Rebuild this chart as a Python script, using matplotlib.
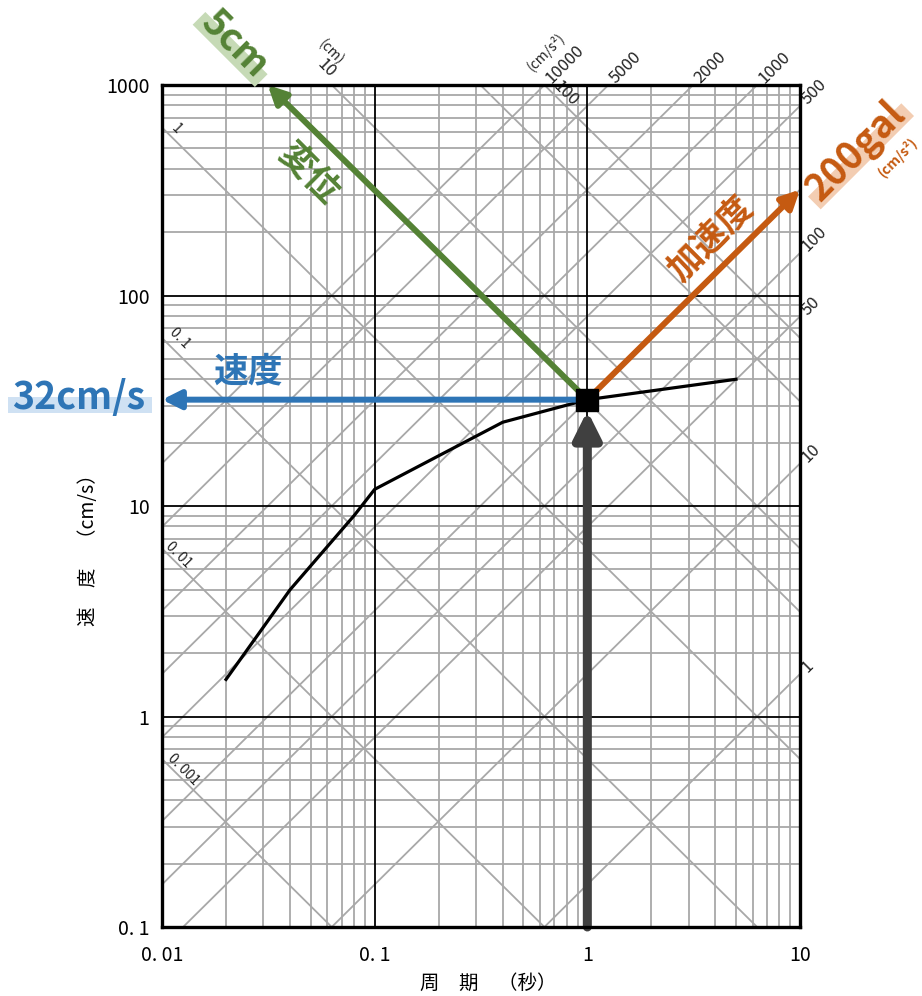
import numpy as np
import matplotlib
matplotlib.use('Agg')
import matplotlib.pyplot as plt
from matplotlib.patches import Polygon
from matplotlib.ticker import LogLocator, NullFormatter, FixedLocator, FixedFormatter

plt.rcParams['font.family'] = ['Noto Sans CJK JP', 'DejaVu Sans']

# ---------------- data ----------------
period = [0.02, 0.04, 0.08, 0.1, 0.4, 1, 5]          # 周期 (s)
velocity = [1.5, 4, 9, 12, 25, 32, 40]               # 速度 (cm/s)

disp_lines = [0.001, 0.01, 0.1, 1, 5, 10, 50, 100]   # 変位 (cm)
acc_lines = [1, 10, 50, 100, 200, 500, 1000, 2000, 5000, 10000]  # 加速度 (cm/s2)

disp_labels = {0.001: '0. 001', 0.01: '0. 01', 0.1: '0. 1', 1: '1', 10: '10', 100: '100'}
acc_labels = {1: '1', 10: '10', 50: '50', 100: '100', 500: '500',
              1000: '1000', 2000: '2000', 5000: '5000', 10000: '10000'}

x_ticks = [0.01, 0.1, 1, 10]
x_ticklabels = ['0. 01', '0. 1', '1', '10']
y_ticks = [0.1, 1, 10, 100, 1000]
y_ticklabels = ['0. 1', '1', '10', '100', '1000']

T_point, Sv_point = 1.0, 32.0     # 読み取り点
D_point, A_point = 5, 200         # 5cm, 200gal

T_min, T_max = 0.01, 10
Sv_min, Sv_max = 0.1, 1000

# ---------------- styles ----------------
GREEN, BLUE, ORANGE, DARK = '#548235', '#2e75b6', '#c55a11', '#404040'
GRID = '#a8a8a8'

W, H = 922, 996
fig = plt.figure(figsize=(W / 100, H / 100), dpi=100)
ax = fig.add_axes([162 / W, 1 - 927 / H, 638 / W, 842 / H])
ax.set_xscale('log')
ax.set_yscale('log')
ax.set_xlim(T_min, T_max)
ax.set_ylim(Sv_min, Sv_max)

ax.xaxis.set_major_locator(FixedLocator(x_ticks))
ax.xaxis.set_major_formatter(FixedFormatter(x_ticklabels))
ax.yaxis.set_major_locator(FixedLocator(y_ticks))
ax.yaxis.set_major_formatter(FixedFormatter(y_ticklabels))
ax.xaxis.set_minor_locator(LogLocator(10, subs=np.arange(2, 10), numticks=50))
ax.yaxis.set_minor_locator(LogLocator(10, subs=np.arange(2, 10), numticks=50))
ax.xaxis.set_minor_formatter(NullFormatter())
ax.yaxis.set_minor_formatter(NullFormatter())
ax.tick_params(which='both', length=0)
ax.tick_params(axis='x', labelsize=14, pad=13)
ax.tick_params(axis='y', labelsize=14, pad=9)
ax.set_axisbelow(True)
ax.grid(True, which='minor', color=GRID, lw=1.3)
ax.grid(False, which='major')
for xv in x_ticks[1:-1]:
    ax.axvline(xv, color='black', lw=1.3, zorder=1.5)
for yv in y_ticks[1:-1]:
    ax.axhline(yv, color='black', lw=1.3, zorder=1.5)
for sp in ax.spines.values():
    sp.set_linewidth(2.4)
    sp.set_zorder(7)

# diagonal lines
T = np.logspace(np.log10(T_min), np.log10(T_max), 200)
for D in disp_lines:
    ax.plot(T, 2 * np.pi * D / T, color=GRID, lw=1.3, zorder=1)
for A in acc_lines:
    ax.plot(T, A * T / (2 * np.pi), color=GRID, lw=1.3, zorder=1)

lab_kw = dict(textcoords='offset pixels', rotation_mode='anchor',
              annotation_clip=False, color='#222222')

# displacement labels
disp_offsets = {0.001: (21, -11), 0.01: (17, -6), 0.1: (18, 0), 1: (14, -1),
                10: (-5, 17), 100: (21, -9)}
for D, s in disp_labels.items():
    t_end = max(T_min, 2 * np.pi * D / Sv_max)
    sv_end = min(Sv_max, 2 * np.pi * D / T_min)
    dx, dy = disp_offsets[D]
    fs = 12 if D >= 10 else 10
    ax.annotate(s, xy=(t_end, sv_end), xytext=(dx, dy), rotation=-45,
                ha='center', va='center', fontsize=fs, **lab_kw)
# unit (cm)
ax.annotate('(cm)', xy=(2 * np.pi * 10 / Sv_max, Sv_max), xytext=(-1, 33),
            rotation=-45, ha='center', va='center', fontsize=10, **lab_kw)

# acceleration labels
for A, s in acc_labels.items():
    sv_end = min(Sv_max, A * T_max / (2 * np.pi))
    t_end = min(T_max, 2 * np.pi * Sv_max / A)
    ax.annotate(s, xy=(t_end, sv_end), xytext=(4, 4), rotation=45,
                ha='left', va='center', fontsize=12, **lab_kw)
ax.annotate('(cm/s²)', xy=(2 * np.pi * Sv_max / 10000, Sv_max), xytext=(2, 33),
            rotation=45, ha='center', va='center', fontsize=10, **lab_kw)

# spectrum curve
ax.plot(period, velocity, color='black', lw=2.3, zorder=3)

# arrows
def arrow(tip, origin, color, lw, hl, hw, shrinkB=0):
    ax.annotate('', xy=tip, xytext=origin, annotation_clip=False,
                arrowprops=dict(arrowstyle=f'-|>,head_length={hl},head_width={hw}',
                                mutation_scale=10, color=color, lw=lw,
                                shrinkA=0, shrinkB=shrinkB),
                zorder=5)

arrow((T_min, Sv_point), (T_point, Sv_point), BLUE, 4.3, 1.1, 0.55)
arrow((2 * np.pi * D_point / Sv_max, Sv_max), (T_point, Sv_point), GREEN, 4.3, 1.1, 0.55)
arrow((T_max, A_point * T_max / (2 * np.pi)), (T_point, Sv_point), ORANGE, 4.3, 1.1, 0.55)
arrow((T_point, Sv_point), (T_point, Sv_min), DARK, 6.5, 1.6, 0.8, shrinkB=8)

ax.plot([T_point], [Sv_point], marker='s', ms=16, color='black', zorder=8,
        linestyle='none', clip_on=False)

# ---------------- annotation texts ----------------
def hl_text(s, x, y, angle, size, color, hl, length, below, above):
    a = np.deg2rad(angle)
    d = np.array([np.cos(a), np.sin(a)])
    n = np.array([-np.sin(a), np.cos(a)])
    o = np.array([x, H - y], dtype=float)
    pts = [o - 4 * d - below * n, o + (length + 4) * d - below * n,
           o + (length + 4) * d + above * n, o - 4 * d + above * n]
    pts = [(p[0] / W, p[1] / H) for p in pts]
    fig.add_artist(Polygon(pts, closed=True, transform=fig.transFigure,
                           facecolor=hl, edgecolor='none', zorder=1))
    fig.text(x / W, 1 - y / H, s, rotation=angle, rotation_mode='anchor',
             ha='left', va='baseline', fontsize=size, color=color,
             fontweight='bold', zorder=2)

hl_text('32cm/s', 12, 409, 0, 27, BLUE, '#cfe1f3', 136, 4, 12)
hl_text('5cm', 199, 24, -45, 27, GREEN, '#c6dab6', 80, 5, 13)
hl_text('200gal', 820, 203, 45, 27, ORANGE, '#f3cdb2', 124, 5, 13)
fig.text(884 / W, 1 - 178 / H, '(cm/s²)', rotation=45, rotation_mode='anchor',
         ha='left', va='baseline', fontsize=10, color=ORANGE, fontweight='bold')

fig.text(248 / W, 1 - 371 / H, '速度', ha='center', va='center', fontsize=25,
         color=BLUE, fontweight='bold', zorder=9)
fig.text(308 / W, 1 - 174 / H, '変位', ha='center', va='center', fontsize=25,
         color=GREEN, fontweight='bold', rotation=-45, rotation_mode='anchor', zorder=9)
fig.text(710 / W, 1 - 238 / H, '加速度', ha='center', va='center', fontsize=25,
         color=ORANGE, fontweight='bold', rotation=45, rotation_mode='anchor', zorder=9)

# axis titles
fig.text(488 / W, 1 - 983 / H, '周　期　（秒）', ha='center', va='center', fontsize=14)
fig.text(88 / W, 1 - 545 / H, '速　度　（cm/s）', ha='center', va='center',
         fontsize=14, rotation=90)

fig.savefig('out.png', dpi=100)
